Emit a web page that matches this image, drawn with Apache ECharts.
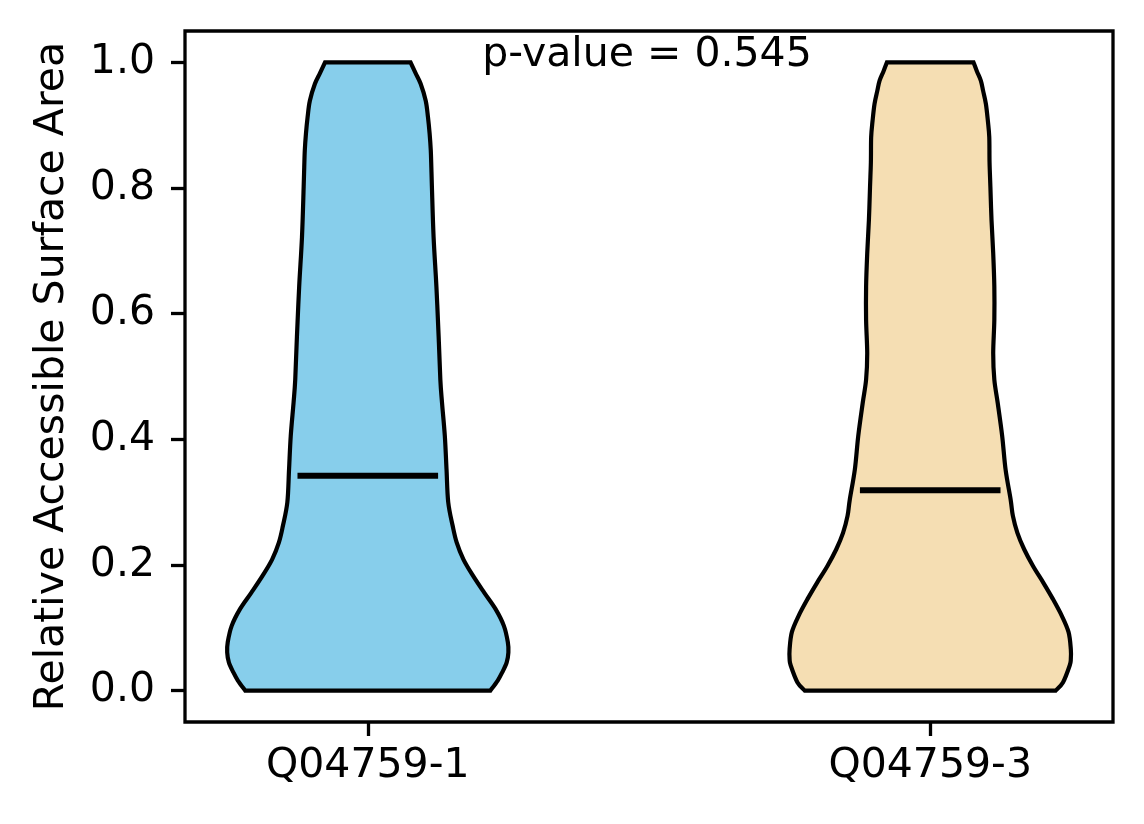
<!DOCTYPE html>
<html>
<head>
<meta charset="utf-8">
<script src="https://cdn.jsdelivr.net/npm/echarts@6/dist/echarts.min.js"></script>
<style>
html,body{margin:0;padding:0;background:#fff;}
#chart{width:1144px;height:824px;}
</style>
</head>
<body>
<div id="chart"></div>
<script>
// ---- data ----
const categories = ['Q04759-1', 'Q04759-3'];
const yTicks = [0, 0.2, 0.4, 0.6, 0.8, 1.0];
const medians = [0.342, 0.319];
const pValueLabel = 'p-value = 0.545';

// violin 1 profile: value levels and half-widths (x-axis units)
const levels1 = [0.000, 0.016, 0.029, 0.045, 0.061, 0.077, 0.103, 0.130, 0.156, 0.183, 0.209, 0.236, 0.262, 0.300, 0.352, 0.405, 0.458, 0.495, 0.563, 0.643, 0.722, 0.802, 0.833, 0.860, 0.886, 0.913, 0.939, 0.966, 0.983, 1.000];
const widths1 = [0.218, 0.231, 0.239, 0.247, 0.250, 0.249, 0.242, 0.227, 0.207, 0.187, 0.170, 0.158, 0.151, 0.143, 0.140, 0.137, 0.132, 0.129, 0.126, 0.122, 0.117, 0.114, 0.113, 0.112, 0.110, 0.107, 0.103, 0.094, 0.085, 0.076];

// violin 2 profile
const levels2 = [0.000, 0.013, 0.040, 0.050, 0.066, 0.093, 0.119, 0.146, 0.172, 0.198, 0.225, 0.251, 0.278, 0.304, 0.352, 0.405, 0.458, 0.495, 0.537, 0.590, 0.643, 0.696, 0.749, 0.802, 0.841, 0.881, 0.907, 0.934, 0.955, 0.971, 0.986, 1.000];
const widths2 = [0.223, 0.236, 0.248, 0.250, 0.250, 0.246, 0.234, 0.218, 0.201, 0.183, 0.167, 0.155, 0.147, 0.143, 0.134, 0.128, 0.120, 0.114, 0.112, 0.114, 0.114, 0.112, 0.109, 0.107, 0.1055, 0.105, 0.1025, 0.099, 0.094, 0.090, 0.083, 0.077];

const violinColors = ['#87CEEB', '#F5DEB3'];
const levelsList = [levels1, levels2];
const widthsList = [widths1, widths2];

const FONT = 'DejaVu Sans';
const FS = 41;

const chart = echarts.init(document.getElementById('chart'), null, {renderer: 'canvas'});

// Catmull-Rom through pixel points -> cubic bezier path commands
function splinePath(pts) {
  let d = '';
  for (let k = 0; k < pts.length - 1; k++) {
    const p0 = pts[Math.max(0, k - 1)], p1 = pts[k], p2 = pts[k + 1], p3 = pts[Math.min(pts.length - 1, k + 2)];
    const c1x = p1[0] + (p2[0] - p0[0]) / 6, c1y = p1[1] + (p2[1] - p0[1]) / 6;
    const c2x = p2[0] - (p3[0] - p1[0]) / 6, c2y = p2[1] - (p3[1] - p1[1]) / 6;
    d += ' C ' + c1x + ' ' + c1y + ' ' + c2x + ' ' + c2y + ' ' + p2[0] + ' ' + p2[1];
  }
  return d;
}

function renderViolin(params, api) {
  const i = params.dataIndex;
  const L = levelsList[i], W = widthsList[i];
  const right = L.map((l, k) => api.coord([i + W[k], l]));
  const leftDown = L.map((l, k) => api.coord([i - W[k], l])).reverse();
  let d = 'M ' + leftDown[leftDown.length - 1][0] + ' ' + leftDown[leftDown.length - 1][1];
  d += ' L ' + right[0][0] + ' ' + right[0][1];
  d += splinePath(right);
  d += ' L ' + leftDown[0][0] + ' ' + leftDown[0][1];
  d += splinePath(leftDown);
  d += ' Z';
  const mL = api.coord([i - 0.125, medians[i]]);
  const mR = api.coord([i + 0.125, medians[i]]);
  return {
    type: 'group',
    children: [
      {type: 'path', shape: {pathData: d}, style: {fill: violinColors[i], stroke: '#000', lineWidth: 4.2, lineJoin: 'miter'}},
      {type: 'line', shape: {x1: mL[0], y1: mL[1], x2: mR[0], y2: mR[1]}, style: {stroke: '#000', lineWidth: 6, lineCap: 'butt'}}
    ]
  };
}

function renderPValue(params, api) {
  const mid = (categories.length - 1) / 2;
  const p = api.coord([mid, yTicks[yTicks.length - 1]]);
  return {
    type: 'text',
    style: {
      text: pValueLabel, x: p[0] - 2, y: p[1] + 13,
      fontFamily: FONT, fontSize: FS, fill: '#000',
      align: 'center', verticalAlign: 'bottom'
    }
  };
}

const option = {
  backgroundColor: '#fff',
  animation: false,
  grid: {left: 185, right: 31, top: 31, bottom: 102, show: true, borderColor: '#000', borderWidth: 3.3, backgroundColor: 'transparent'},
  xAxis: {
    type: 'value', min: -0.325, max: 1.325,
    axisLine: {show: false, onZero: false},
    splitLine: {show: false},
    axisTick: {show: true, inside: false, customValues: categories.map((c, i) => i), length: 14, lineStyle: {color: '#000', width: 3.3}},
    axisLabel: {
      customValues: categories.map((c, i) => i),
      formatter: v => categories[Math.round(v)] || '',
      color: '#000', fontFamily: FONT, fontSize: FS, margin: 24
    }
  },
  yAxis: {
    type: 'value', min: -0.05, max: 1.05,
    name: 'Relative Accessible Surface Area',
    nameLocation: 'middle', nameRotate: 90, nameGap: 112,
    nameTextStyle: {color: '#000', fontFamily: FONT, fontSize: FS},
    axisLine: {show: false, onZero: false},
    splitLine: {show: false},
    axisTick: {show: true, inside: false, customValues: yTicks, length: 14, lineStyle: {color: '#000', width: 3.3}},
    axisLabel: {
      customValues: yTicks,
      formatter: v => v.toFixed(1),
      color: '#000', fontFamily: FONT, fontSize: FS, margin: 30
    }
  },
  series: [
    {type: 'custom', renderItem: renderViolin, data: categories.map((c, i) => [i]), encode: {x: 0}, z: 2},
    {type: 'custom', renderItem: renderPValue, data: [[0]], encode: {x: 0}, z: 3}
  ]
};
chart.setOption(option);
</script>
</body>
</html>
